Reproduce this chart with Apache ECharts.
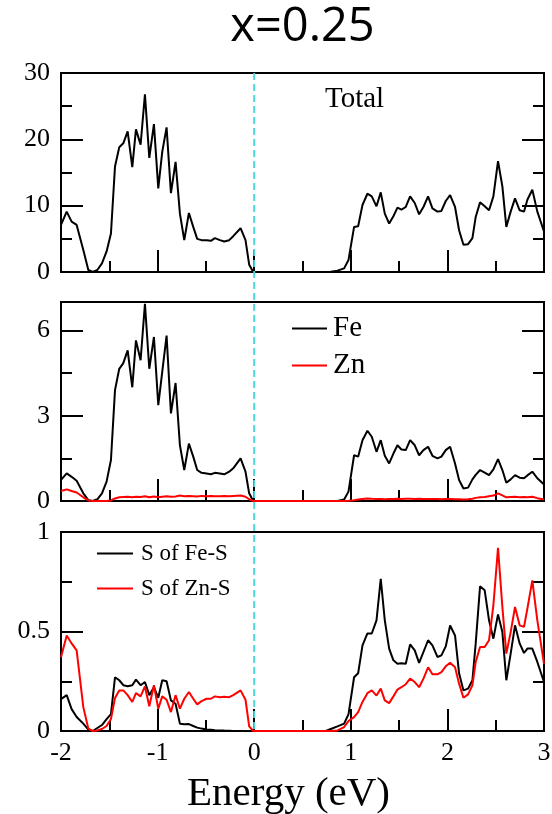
<!DOCTYPE html>
<html><head><meta charset="utf-8">
<script src="https://cdn.jsdelivr.net/npm/echarts@6/dist/echarts.min.js"></script>
<style>html,body{margin:0;padding:0;background:#fff}#c{width:552px;height:814px}</style>
</head><body><div id="c"></div>
<script>
// Energy grid (eV)
const energyLeft = [-2.000,-1.941,-1.890,-1.838,-1.769,-1.717,-1.672,-1.624,-1.576,-1.528,-1.483,-1.441,-1.397,-1.355,-1.310,-1.262,-1.224,-1.176,-1.131,-1.086,-1.038,-0.993,-0.952,-0.907,-0.862,-0.814,-0.769,-0.724,-0.676,-0.631,-0.590,-0.545,-0.493,-0.448,-0.407,-0.355,-0.310,-0.259,-0.217,-0.141,-0.090,-0.052,-0.010];
const energyRight = [0.741,0.793,0.862,0.931,0.976,1.034,1.076,1.121,1.172,1.217,1.266,1.310,1.352,1.397,1.441,1.483,1.524,1.569,1.614,1.662,1.707,1.752,1.800,1.845,1.897,1.938,1.983,2.028,2.079,2.121,2.166,2.214,2.259,2.293,2.338,2.386,2.431,2.476,2.524,2.569,2.610,2.655,2.700,2.748,2.793,2.828,2.879,2.931,3.000];

// Panel 1: Total DOS
const totalLeft = [7.1,9.1,7.6,7.1,3.3,0.3,0.0,0.3,1.3,3.1,5.8,15.9,18.8,19.4,21.2,15.8,21.5,19.2,26.8,17.2,22.3,12.6,18.1,21.8,11.9,16.6,8.8,4.8,8.9,6.8,5.0,4.8,4.8,4.7,5.1,4.8,4.6,4.8,5.4,6.6,4.8,1.1,0.0];
const totalRight = [0,0.05,0.2,0.55,1.8,6.8,6.9,10.1,11.8,11.4,9.9,12.0,8.8,7.3,8.4,9.7,9.4,9.8,11.4,10.4,8.7,9.8,11.4,9.6,9.1,9.2,10.7,11.6,9.8,6.3,4.1,4.2,5.1,8.3,10.5,9.9,9.3,11.4,16.7,12.9,6.8,9.1,11.1,9.3,9.1,10.9,12.4,9.1,6.1];

// Panel 2: Fe, Zn
const feLeft = [0.74,0.97,0.85,0.71,0.27,0.03,0.0,0.06,0.27,0.68,1.44,3.9,4.65,4.85,5.3,4.0,5.65,4.95,6.94,4.65,5.77,3.37,4.54,5.82,3.08,4.15,1.96,1.09,2.02,1.56,1.09,0.99,0.97,0.94,0.99,0.97,0.94,1.03,1.15,1.5,1.03,0.27,0.0];
const feRight = [0,0,0,0.05,0.33,1.61,1.56,2.14,2.47,2.26,1.73,2.14,1.59,1.32,1.67,1.96,1.81,1.79,2.14,1.96,1.61,1.79,1.91,1.59,1.5,1.56,1.79,1.91,1.32,0.74,0.44,0.47,0.76,0.92,1.09,1.0,0.91,1.11,1.47,1.09,0.64,0.76,0.91,0.82,0.8,0.9,1.03,0.8,0.58];
const znLeft = [0.35,0.41,0.35,0.3,0.13,0.02,0.0,0.0,0.0,0.0,0.02,0.09,0.13,0.14,0.15,0.13,0.15,0.14,0.17,0.13,0.16,0.13,0.15,0.17,0.15,0.16,0.19,0.17,0.18,0.17,0.16,0.18,0.17,0.18,0.17,0.17,0.18,0.17,0.18,0.19,0.15,0.06,0.0];
const znRight = [0,0,0,0,0.01,0.03,0.05,0.07,0.09,0.08,0.07,0.07,0.06,0.07,0.07,0.08,0.07,0.08,0.08,0.07,0.08,0.07,0.07,0.07,0.07,0.06,0.07,0.07,0.06,0.06,0.05,0.06,0.08,0.11,0.13,0.14,0.17,0.19,0.27,0.2,0.13,0.14,0.15,0.13,0.14,0.13,0.15,0.1,0.05];

// Panel 3: S of Fe-S, S of Zn-S
const sFeLeft = [0.16,0.18,0.11,0.07,0.037,0.007,0.0,0.015,0.03,0.06,0.085,0.27,0.255,0.23,0.225,0.23,0.258,0.23,0.246,0.18,0.22,0.167,0.255,0.25,0.154,0.137,0.037,0.034,0.035,0.025,0.017,0.012,0.008,0.006,0.004,0.003,0.002,0.001,0,0,0,0,0];
const sFeRight = [0,0.01,0.023,0.037,0.084,0.27,0.29,0.43,0.49,0.49,0.556,0.765,0.556,0.414,0.355,0.338,0.34,0.338,0.435,0.405,0.342,0.397,0.456,0.43,0.372,0.38,0.425,0.53,0.48,0.29,0.204,0.213,0.255,0.44,0.727,0.707,0.556,0.464,0.586,0.497,0.255,0.389,0.531,0.44,0.392,0.414,0.414,0.347,0.246];
const sZnLeft = [0.37,0.48,0.44,0.405,0.12,0.012,0,0.003,0.01,0.025,0.06,0.166,0.204,0.204,0.18,0.146,0.19,0.174,0.224,0.124,0.23,0.112,0.174,0.157,0.095,0.18,0.112,0.162,0.196,0.162,0.134,0.15,0.162,0.162,0.174,0.17,0.172,0.17,0.18,0.204,0.157,0.023,0];
const sZnRight = [0,0,0.003,0.02,0.05,0.07,0.095,0.146,0.19,0.204,0.178,0.213,0.154,0.14,0.174,0.208,0.22,0.235,0.263,0.246,0.22,0.263,0.32,0.285,0.285,0.296,0.325,0.343,0.32,0.238,0.167,0.184,0.23,0.347,0.422,0.422,0.456,0.632,0.92,0.623,0.389,0.497,0.623,0.531,0.523,0.615,0.757,0.556,0.338];

// Ticks and tick labels
const xMajor = [-2, -1, 0, 1, 2, 3];
const xMinor = [-1.5, -0.5, 0.5, 1.5, 2.5];
const yMajor = [[0, 10, 20, 30], [0, 3, 6], [0, 0.5, 1]];
const yMinor = [[5, 15, 25], [1.5, 4.5], [0.25, 0.75]];
const yMax = [30, 7, 1];
const seriesNames = ['Total', 'Fe', 'Zn', 'S of Fe-S', 'S of Zn-S'];

const energy = energyLeft.concat(energyRight);
const pairs = (l, r) => { const v = l.concat(r); return energy.map((e, i) => [e, v[i]]); };

const SERIF = 'Liberation Serif';
const grids = [73, 302, 532].map(t => ({
  left: 61, right: 8, top: t, height: 199,
  show: true, borderColor: '#000', borderWidth: 2, backgroundColor: 'transparent', outerBoundsMode: 'none'
}));

function axis(kind, gridIndex, position, min, max, ticks, len, labels, showLine) {
  return {
    type: 'value', gridIndex, position, min, max,
    axisLine: {show: showLine, onZero: false, lineStyle: {color: '#000', width: 2}},
    axisTick: {show: true, inside: true, length: len, customValues: ticks, lineStyle: {color: '#000', width: 2}},
    axisLabel: labels ? {show: true, customValues: labels, color: '#000', fontFamily: SERIF, fontSize: 26,
      margin: kind === 'x' ? 9 : 11, hideOverlap: false, showMinLabel: true, showMaxLabel: true,
      formatter: v => String(v)} : {show: false},
    splitLine: {show: false}, minorTick: {show: false}, minorSplitLine: {show: false}
  };
}

const xAxes = [], yAxes = [];
[0, 1, 2].forEach(i => {
  xAxes.push(axis('x', i, 'bottom', xMajor[0], xMajor[xMajor.length - 1], xMajor, 22, i === 2 ? xMajor : null, true));
  xAxes.push(axis('x', i, 'bottom', xMajor[0], xMajor[xMajor.length - 1], xMinor, 11, null, false));
  yAxes.push(axis('y', i, 'left', 0, yMax[i], yMajor[i], 22, yMajor[i], true));
  yAxes.push(axis('y', i, 'left', 0, yMax[i], yMinor[i], 11, null, false));
  yAxes.push(axis('y', i, 'right', 0, yMax[i], yMajor[i], 22, null, true));
  yAxes.push(axis('y', i, 'right', 0, yMax[i], yMinor[i], 11, null, false));
});

const line = (name, data, g, color) => ({
  name, type: 'line', xAxisIndex: 2 * g, yAxisIndex: 4 * g, data, showSymbol: false, symbol: 'none',
  smooth: false, animation: false, color, lineStyle: {color, width: 2}, itemStyle: {color}, z: 3
});

const series = [
  line(seriesNames[0], pairs(totalLeft, totalRight), 0, '#000'),
  line(seriesNames[1], pairs(feLeft, feRight), 1, '#000'),
  line(seriesNames[2], pairs(znLeft, znRight), 1, '#ff0000'),
  line(seriesNames[3], pairs(sFeLeft, sFeRight), 2, '#000'),
  line(seriesNames[4], pairs(sZnLeft, sZnRight), 2, '#ff0000')
];

const chart = echarts.init(document.getElementById('c'), null, {renderer: 'canvas'});
chart.setOption({
  animation: false,
  backgroundColor: '#fff',
  grid: grids,
  xAxis: xAxes,
  yAxis: yAxes,
  series,
  legend: [
    {data: ['Fe', 'Zn'], left: 292, top: 314, orient: 'vertical', icon: 'rect', itemWidth: 35, itemHeight: 2,
     itemGap: 8, textStyle: {fontFamily: SERIF, fontSize: 29, color: '#000', padding: [0, 0, 0, 1]}, padding: 0, selectedMode: false},
    {data: ['S of Fe-S', 'S of Zn-S'], left: 97, top: 542, orient: 'vertical', icon: 'rect', itemWidth: 36, itemHeight: 2,
     itemGap: 12, textStyle: {fontFamily: SERIF, fontSize: 23, color: '#000', padding: [0, 0, 0, 3]}, padding: 0, selectedMode: false}
  ]
});

// Fermi level dashed line + texts
const xf = chart.convertToPixel({xAxisIndex: 0}, 0);
const yTop = chart.convertToPixel({yAxisIndex: 0}, yMax[0]);
const yBot = chart.convertToPixel({yAxisIndex: 8}, 0);
const xCenter = (chart.convertToPixel({xAxisIndex: 0}, xMajor[0]) + chart.convertToPixel({xAxisIndex: 0}, xMajor[xMajor.length - 1])) / 2;
chart.setOption({
  graphic: [
    {type: 'line', shape: {x1: xf, y1: yTop, x2: xf, y2: yBot}, z: 10,
     style: {stroke: '#4fd6d6', lineWidth: 2, lineDash: [7, 4]}},
    {type: 'text', x: xCenter, y: 28, z: 10,
     style: {text: 'x=0.25', font: '47px "Open Sans"', fill: '#000', align: 'center', verticalAlign: 'middle'}},
    {type: 'text', x: 325, y: 99, z: 10,
     style: {text: 'Total', font: '29px "Liberation Serif"', fill: '#000', align: 'left', verticalAlign: 'middle'}},
    {type: 'text', x: xCenter - 14, y: 794, z: 10,
     style: {text: 'Energy (eV)', font: '41px "Liberation Serif"', fill: '#000', align: 'center', verticalAlign: 'middle'}}
  ]
});
</script>
</body></html>
